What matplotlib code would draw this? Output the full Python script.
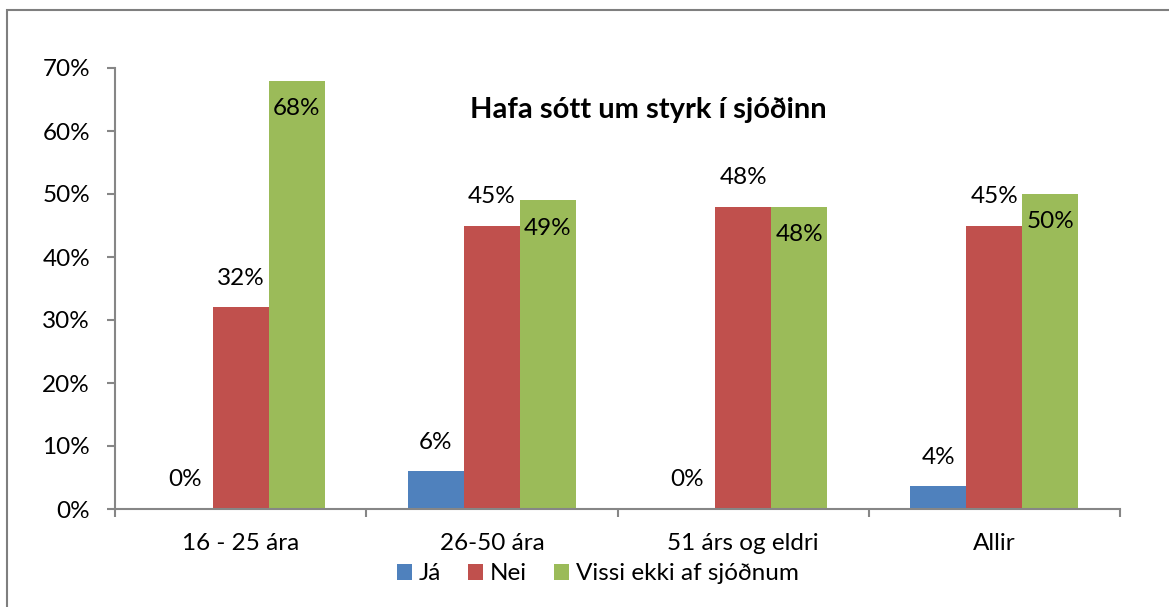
import numpy as np
import matplotlib.pyplot as plt
from matplotlib.patches import Rectangle

plt.rcParams['font.family'] = ['Lato', 'DejaVu Sans']

# ============ data ============
categories = ['16 - 25 ára', '26-50 ára', '51 árs og eldri', 'Allir']
series_names = ['Já', 'Nei', 'Vissi ekki af sjóðnum']
ja = [0.0, 0.06, 0.0, 0.036]
nei = [0.32, 0.45, 0.48, 0.45]
vissi = [0.68, 0.49, 0.48, 0.50]
ja_labels = ['0%', '6%', '0%', '4%']
nei_labels = ['32%', '45%', '48%', '45%']
vissi_labels = ['68%', '49%', '48%', '50%']
yticks = [0, 0.1, 0.2, 0.3, 0.4, 0.5, 0.6, 0.7]
title = 'Hafa sótt um styrk í sjóðinn'
# ==============================

colors = ['#4F81BD', '#C0504D', '#9BBB59']
axis_gray = '#868686'
FS = 17.5

fig = plt.figure(figsize=(11.69, 6.07), dpi=100)
ax = fig.add_axes([115 / 1169, 1 - 509 / 607, (1120 - 115) / 1169, (509 - 68) / 607])

x = np.arange(len(categories))
w = 0.223
ax.bar(x - w, ja, w, color=colors[0], label=series_names[0])
ax.bar(x, nei, w, color=colors[1], label=series_names[1])
ax.bar(x + w, vissi, w, color=colors[2], label=series_names[2])

# data labels: above for Já / Nei, inside top for the green ones
for xs, vals, labs in [(x - w, ja, ja_labels), (x, nei, nei_labels)]:
    for xi, v, lab in zip(xs, vals, labs):
        ax.annotate(lab, (xi, v), xytext=(0, 21), textcoords='offset points',
                    ha='center', va='center', fontsize=FS)
for xi, v, lab in zip(x + w, vissi, vissi_labels):
    ax.annotate(lab, (xi, v), xytext=(0, -20), textcoords='offset points',
                ha='center', va='center', fontsize=FS)

ax.set_xlim(-0.5, len(categories) - 0.5)
ax.set_ylim(0, 0.70)
ax.set_yticks(yticks)
ax.set_yticklabels([f'{int(round(t * 100))}%' for t in yticks], fontsize=FS)
ax.set_xticks(x)
ax.set_xticklabels(categories, fontsize=FS)
ax.set_xticks(np.arange(-0.5, len(categories)), minor=True)
ax.tick_params(axis='x', which='major', length=0, pad=17)
ax.tick_params(axis='x', which='minor', length=6, color=axis_gray, width=1.5)
ax.tick_params(axis='y', length=6, color=axis_gray, width=1.5, pad=12)

for s in ['top', 'right']:
    ax.spines[s].set_visible(False)
for s in ['left', 'bottom']:
    ax.spines[s].set_color(axis_gray)
    ax.spines[s].set_linewidth(1.5)

fig.text(648 / 1169, 1 - 110 / 607, title, ha='center', va='center',
         fontsize=21, fontweight='bold')

fig.legend(loc='center', bbox_to_anchor=(598 / 1169, 1 - 574 / 607), ncol=3,
           frameon=False, fontsize=FS, handlelength=0.6, handleheight=0.6,
           handletextpad=0.3, columnspacing=1.1, borderaxespad=0)

# outer frame of the chart area
fig.patches.append(Rectangle((7 / 1169, -0.1), 1.2, 1 - 10 / 607 + 0.1,
                             transform=fig.transFigure, fill=False,
                             edgecolor='#7f7f7f', linewidth=1.5))

fig.savefig('out.png', dpi=100)
